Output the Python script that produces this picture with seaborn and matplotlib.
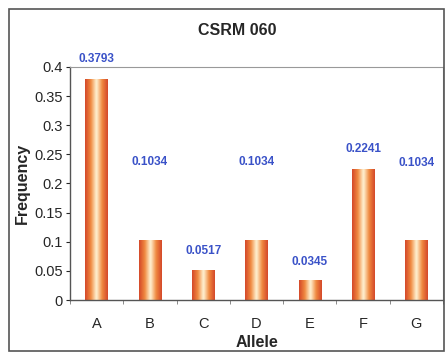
import matplotlib
matplotlib.use("Agg")
import matplotlib.pyplot as plt
import matplotlib.patches as mpatches
from matplotlib.colors import LinearSegmentedColormap
import numpy as np
import pandas as pd
import seaborn as sns

alleles = ["A", "B", "C", "D", "E", "F", "G"]
frequency = [0.3793, 0.1034, 0.0517, 0.1034, 0.0345, 0.2241, 0.1034]
value_labels = ["0.3793", "0.1034", "0.0517", "0.1034", "0.0345", "0.2241", "0.1034"]
yticks = [0, 0.05, 0.1, 0.15, 0.2, 0.25, 0.3, 0.35, 0.4]
ytick_labels = ["0", "0.05", "0.1", "0.15", "0.2", "0.25", "0.3", "0.35", "0.4"]

label_offsets = [10, 52, 9.5, 52, 8.5, 10.5, 51]  # points above bar top

sns.set_style("white")
plt.rcParams["font.family"] = ["Liberation Sans", "DejaVu Sans"]

fig = plt.figure(figsize=(4.48, 3.58), dpi=100)
ax = fig.add_axes([0.156, 0.162, 0.833, 0.651])

df = pd.DataFrame({"Allele": alleles, "Frequency": frequency})
sns.barplot(data=df, x="Allele", y="Frequency", ax=ax, width=0.42,
            color="#e0602e", edgecolor="none", saturation=1)

cmap = LinearSegmentedColormap.from_list(
    "cyl", ["#d4482a", "#f08a40", "#fff4d6", "#f08a40", "#d4482a"])
grad = np.linspace(0, 1, 64).reshape(1, -1)
for p in list(ax.patches):
    x0, y0 = p.get_x(), p.get_y()
    w, h = p.get_width(), p.get_height()
    im = ax.imshow(grad, cmap=cmap, aspect="auto", extent=[x0, x0 + w, y0, y0 + h],
                   interpolation="bicubic", zorder=p.get_zorder() + 0.1)
    im.set_clip_path(p)

ax.set_xlim(-0.5, len(alleles) - 0.5)
ax.set_ylim(0, 0.4)
ax.set_yticks(yticks)
ax.set_yticklabels(ytick_labels, fontsize=10.5)
ax.set_xticks(range(len(alleles)))
ax.set_xticklabels(alleles, fontsize=10.5)
ax.tick_params(axis="x", length=0, pad=12)
ax.tick_params(axis="y", length=3, width=0.8, direction="out", pad=2, left=True)
ax.set_xticks(np.arange(-0.5, len(alleles)), minor=True)
ax.tick_params(axis="x", which="minor", length=3, width=0.6, direction="out", bottom=True, color="#777777")

for i, (v, t) in enumerate(zip(frequency, value_labels)):
    ax.annotate(t, (i, v), xytext=(0, label_offsets[i]), textcoords="offset points",
                ha="center", va="bottom", fontsize=8.5, color="#3a52c8", fontweight="bold")

ax.set_xlabel("Allele", fontsize=11.5, fontweight="bold", labelpad=3)
ax.set_ylabel("Frequency", fontsize=11.5, fontweight="bold", labelpad=3)
fig.text(0.53, 0.915, "CSRM 060", ha="center", va="center", fontsize=11.5, fontweight="bold")

for side in ["left", "bottom"]:
    ax.spines[side].set_color("#555555")
    ax.spines[side].set_linewidth(1.0)
for side in ["top", "right"]:
    ax.spines[side].set_color("#999999")
    ax.spines[side].set_linewidth(0.8)

fig.patches.append(mpatches.Rectangle((0.02, 0.02), 0.97, 0.955, transform=fig.transFigure,
                                      fill=False, edgecolor="#555555", linewidth=1.2))

fig.savefig("out.png", dpi=100)
